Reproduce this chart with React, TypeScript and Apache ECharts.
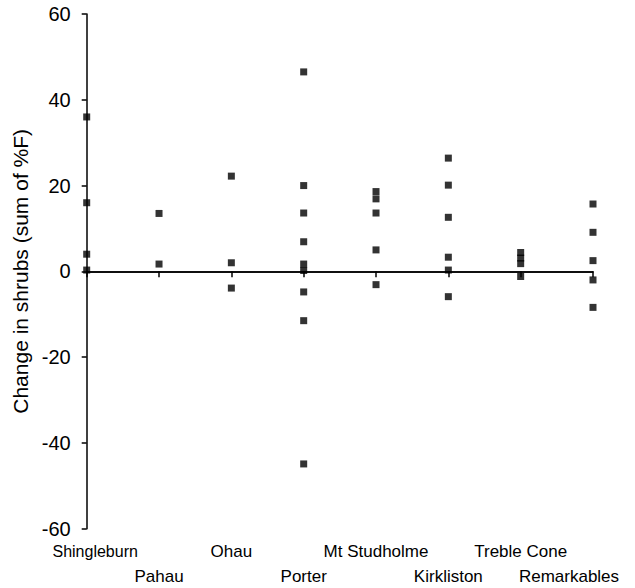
import React, { useEffect, useRef } from "react";
import * as echarts from "echarts";

const sites = [
  "Shingleburn",
  "Pahau",
  "Ohau",
  "Porter",
  "Mt Studholme",
  "Kirkliston",
  "Treble Cone",
  "Remarkables",
];

const shingleburn = [36, 16, 4, 0.3];
const pahau = [13.5, 1.7];
const ohau = [22.2, 2, -3.9];
const porter = [46.5, 20, 13.6, 6.9, 1.7, 0.2, -4.8, -11.5, -44.9];
const mtStudholme = [18.6, 16.9, 13.6, 5, -3.1];
const kirkliston = [26.4, 20.1, 12.6, 3.3, 0.3, -5.9];
const trebleCone = [4.4, 3.1, 1.8, -1.2];
const remarkables = [15.7, 9.1, 2.5, -2, -8.4];

const siteValues = [
  shingleburn,
  pahau,
  ohau,
  porter,
  mtStudholme,
  kirkliston,
  trebleCone,
  remarkables,
];

const yTicks = { min: -60, max: 60, interval: 20 };

const FONT = "'Liberation Sans', Arial, Helvetica, sans-serif";

export default function App() {
  const ref = useRef<HTMLDivElement>(null);

  useEffect(() => {
    if (!ref.current) return;
    const chart = echarts.init(ref.current, undefined, { renderer: "svg" });

    const points: [string, number][] = [];
    siteValues.forEach((vals, i) => {
      vals.forEach((v) => points.push([sites[i], v]));
    });

    chart.setOption({
      animation: false,
      backgroundColor: "#fff",
      textStyle: { fontFamily: FONT, color: "#000" },
      grid: {
        left: 86.7,
        right: 42,
        top: 14,
        bottom: 59.3,
        containLabel: false,
        outerBoundsMode: "none",
      },
      xAxis: {
        type: "category",
        data: sites,
        boundaryGap: false,
        axisLine: { lineStyle: { color: "#000", width: 1.5 } },
        axisTick: {
          show: true,
          length: 6,
          alignWithLabel: true,
          interval: 0,
          lineStyle: { color: "#000", width: 1.5 },
        },
        splitLine: { show: false },
        axisLabel: {
          interval: 0,
          margin: 10,
          color: "#000",
          fontFamily: FONT,
          formatter: (v: string, i: number) => {
            const st = i === 0 ? "first" : i === 7 ? "last" : "n";
            return i % 2 ? `{n| }\n{${st}|${v}}` : `{${st}|${v}}`;
          },
          rich: {
            n: { fontSize: 17, lineHeight: 25, color: "#000", fontFamily: FONT },
            first: {
              fontSize: 16,
              lineHeight: 25,
              color: "#000",
              fontFamily: FONT,
              padding: [0, 0, 0, 17],
            },
            last: {
              fontSize: 17,
              lineHeight: 25,
              color: "#000",
              fontFamily: FONT,
              padding: [0, 48, 0, 0],
            },
          },
        },
      },
      yAxis: {
        type: "value",
        min: yTicks.min,
        max: yTicks.max,
        interval: yTicks.interval,
        name: "Change in shrubs (sum of %F)",
        nameLocation: "middle",
        nameGap: 48,
        nameTextStyle: { fontSize: 21, color: "#000", fontFamily: FONT },
        axisLine: { show: true, lineStyle: { color: "#000", width: 1.5 } },
        axisTick: {
          show: true,
          length: 5,
          lineStyle: { color: "#000", width: 1.5 },
        },
        splitLine: { show: false },
        axisLabel: {
          margin: 16,
          fontSize: 20,
          color: "#000",
          fontFamily: FONT,
        },
      },
      series: [
        {
          type: "scatter",
          symbol: "rect",
          symbolSize: 7,
          itemStyle: { color: "#000" },
          data: points,
          markLine: {
            silent: true,
            symbol: ["none", "none"],
            label: { show: false },
            lineStyle: { color: "#000", width: 1.5, type: "solid" },
            data: [{ yAxis: 0 }],
          },
        },
      ],
    });

    return () => chart.dispose();
  }, []);

  return (
    <div
      ref={ref}
      style={{ position: "fixed", left: 0, top: 0, width: 635, height: 588 }}
    />
  );
}
